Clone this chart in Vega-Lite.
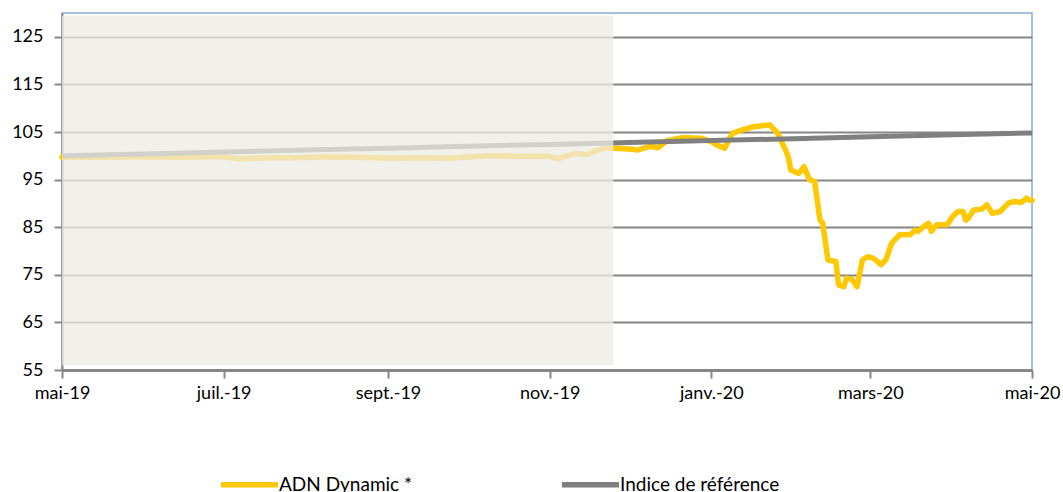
{
  "$schema": "https://vega.github.io/schema/vega-lite/v6.json",
  "width": 970,
  "height": 357,
  "autosize": {"type": "none"},
  "padding": {"left": 62, "top": 13, "right": 31, "bottom": 122},
  "background": "white",
  "config": {
    "font": "Lato",
    "view": {"stroke": "#8FAAD0", "strokeWidth": 1.5},
    "axis": {"labelFont": "Lato", "labelFontSize": 18, "labelColor": "#000000", "domainColor": "#868686", "tickColor": "#868686", "title": null}
  },
  "datasets": {
    "adn": [
      {"date": "2019/05/01", "value": 99.7, "series": "ADN Dynamic *"},
      {"date": "2019/05/15", "value": 99.7, "series": "ADN Dynamic *"},
      {"date": "2019/05/30", "value": 99.8, "series": "ADN Dynamic *"},
      {"date": "2019/06/14", "value": 99.7, "series": "ADN Dynamic *"},
      {"date": "2019/06/25", "value": 99.8, "series": "ADN Dynamic *"},
      {"date": "2019/07/01", "value": 99.8, "series": "ADN Dynamic *"},
      {"date": "2019/07/07", "value": 99.4, "series": "ADN Dynamic *"},
      {"date": "2019/07/18", "value": 99.6, "series": "ADN Dynamic *"},
      {"date": "2019/07/29", "value": 99.6, "series": "ADN Dynamic *"},
      {"date": "2019/08/09", "value": 99.8, "series": "ADN Dynamic *"},
      {"date": "2019/08/20", "value": 99.7, "series": "ADN Dynamic *"},
      {"date": "2019/09/03", "value": 99.5, "series": "ADN Dynamic *"},
      {"date": "2019/09/12", "value": 99.6, "series": "ADN Dynamic *"},
      {"date": "2019/09/24", "value": 99.5, "series": "ADN Dynamic *"},
      {"date": "2019/10/02", "value": 99.8, "series": "ADN Dynamic *"},
      {"date": "2019/10/11", "value": 100.0, "series": "ADN Dynamic *"},
      {"date": "2019/10/23", "value": 99.9, "series": "ADN Dynamic *"},
      {"date": "2019/11/01", "value": 99.9, "series": "ADN Dynamic *"},
      {"date": "2019/11/04", "value": 99.4, "series": "ADN Dynamic *"},
      {"date": "2019/11/11", "value": 100.5, "series": "ADN Dynamic *"},
      {"date": "2019/11/15", "value": 100.2, "series": "ADN Dynamic *"},
      {"date": "2019/11/19", "value": 101.2, "series": "ADN Dynamic *"},
      {"date": "2019/11/22", "value": 101.6, "series": "ADN Dynamic *"},
      {"date": "2019/11/26", "value": 101.6, "series": "ADN Dynamic *"},
      {"date": "2019/12/02", "value": 101.4, "series": "ADN Dynamic *"},
      {"date": "2019/12/04", "value": 101.2, "series": "ADN Dynamic *"},
      {"date": "2019/12/09", "value": 102.0, "series": "ADN Dynamic *"},
      {"date": "2019/12/12", "value": 101.7, "series": "ADN Dynamic *"},
      {"date": "2019/12/15", "value": 103.1, "series": "ADN Dynamic *"},
      {"date": "2019/12/21", "value": 103.8, "series": "ADN Dynamic *"},
      {"date": "2019/12/28", "value": 103.7, "series": "ADN Dynamic *"},
      {"date": "2020/01/01", "value": 103.0, "series": "ADN Dynamic *"},
      {"date": "2020/01/03", "value": 102.3, "series": "ADN Dynamic *"},
      {"date": "2020/01/06", "value": 101.6, "series": "ADN Dynamic *"},
      {"date": "2020/01/09", "value": 104.7, "series": "ADN Dynamic *"},
      {"date": "2020/01/13", "value": 105.5, "series": "ADN Dynamic *"},
      {"date": "2020/01/17", "value": 106.1, "series": "ADN Dynamic *"},
      {"date": "2020/01/23", "value": 106.5, "series": "ADN Dynamic *"},
      {"date": "2020/01/26", "value": 104.8, "series": "ADN Dynamic *"},
      {"date": "2020/01/29", "value": 101.2, "series": "ADN Dynamic *"},
      {"date": "2020/01/30", "value": 99.8, "series": "ADN Dynamic *"},
      {"date": "2020/01/31", "value": 97.0, "series": "ADN Dynamic *"},
      {"date": "2020/02/03", "value": 96.3, "series": "ADN Dynamic *"},
      {"date": "2020/02/05", "value": 97.7, "series": "ADN Dynamic *"},
      {"date": "2020/02/07", "value": 95.0, "series": "ADN Dynamic *"},
      {"date": "2020/02/09", "value": 94.6, "series": "ADN Dynamic *"},
      {"date": "2020/02/11", "value": 86.5, "series": "ADN Dynamic *"},
      {"date": "2020/02/12", "value": 85.9, "series": "ADN Dynamic *"},
      {"date": "2020/02/14", "value": 78.1, "series": "ADN Dynamic *"},
      {"date": "2020/02/17", "value": 77.8, "series": "ADN Dynamic *"},
      {"date": "2020/02/18", "value": 72.9, "series": "ADN Dynamic *"},
      {"date": "2020/02/20", "value": 72.5, "series": "ADN Dynamic *"},
      {"date": "2020/02/21", "value": 74.3, "series": "ADN Dynamic *"},
      {"date": "2020/02/23", "value": 74.1, "series": "ADN Dynamic *"},
      {"date": "2020/02/25", "value": 72.5, "series": "ADN Dynamic *"},
      {"date": "2020/02/27", "value": 78.1, "series": "ADN Dynamic *"},
      {"date": "2020/02/29", "value": 78.8, "series": "ADN Dynamic *"},
      {"date": "2020/03/02", "value": 78.5, "series": "ADN Dynamic *"},
      {"date": "2020/03/03", "value": 78.1, "series": "ADN Dynamic *"},
      {"date": "2020/03/05", "value": 77.1, "series": "ADN Dynamic *"},
      {"date": "2020/03/07", "value": 78.3, "series": "ADN Dynamic *"},
      {"date": "2020/03/09", "value": 81.6, "series": "ADN Dynamic *"},
      {"date": "2020/03/12", "value": 83.4, "series": "ADN Dynamic *"},
      {"date": "2020/03/16", "value": 83.4, "series": "ADN Dynamic *"},
      {"date": "2020/03/18", "value": 84.4, "series": "ADN Dynamic *"},
      {"date": "2020/03/19", "value": 84.1, "series": "ADN Dynamic *"},
      {"date": "2020/03/21", "value": 85.1, "series": "ADN Dynamic *"},
      {"date": "2020/03/23", "value": 85.8, "series": "ADN Dynamic *"},
      {"date": "2020/03/24", "value": 84.1, "series": "ADN Dynamic *"},
      {"date": "2020/03/26", "value": 85.5, "series": "ADN Dynamic *"},
      {"date": "2020/03/30", "value": 85.5, "series": "ADN Dynamic *"},
      {"date": "2020/04/01", "value": 87.2, "series": "ADN Dynamic *"},
      {"date": "2020/04/03", "value": 88.3, "series": "ADN Dynamic *"},
      {"date": "2020/04/05", "value": 88.3, "series": "ADN Dynamic *"},
      {"date": "2020/04/06", "value": 86.5, "series": "ADN Dynamic *"},
      {"date": "2020/04/07", "value": 86.9, "series": "ADN Dynamic *"},
      {"date": "2020/04/09", "value": 88.6, "series": "ADN Dynamic *"},
      {"date": "2020/04/12", "value": 88.8, "series": "ADN Dynamic *"},
      {"date": "2020/04/14", "value": 89.7, "series": "ADN Dynamic *"},
      {"date": "2020/04/16", "value": 87.9, "series": "ADN Dynamic *"},
      {"date": "2020/04/19", "value": 88.3, "series": "ADN Dynamic *"},
      {"date": "2020/04/22", "value": 90.0, "series": "ADN Dynamic *"},
      {"date": "2020/04/24", "value": 90.4, "series": "ADN Dynamic *"},
      {"date": "2020/04/27", "value": 90.2, "series": "ADN Dynamic *"},
      {"date": "2020/04/29", "value": 91.1, "series": "ADN Dynamic *"},
      {"date": "2020/04/30", "value": 90.7, "series": "ADN Dynamic *"},
      {"date": "2020/05/01", "value": 90.6, "series": "ADN Dynamic *"}
    ],
    "ref": [
      {"date": "2019/05/01", "value": 100.0, "series": "Indice de référence"},
      {"date": "2019/06/01", "value": 100.4, "series": "Indice de référence"},
      {"date": "2019/07/01", "value": 100.8, "series": "Indice de référence"},
      {"date": "2019/08/01", "value": 101.2, "series": "Indice de référence"},
      {"date": "2019/09/01", "value": 101.6, "series": "Indice de référence"},
      {"date": "2019/10/01", "value": 102.0, "series": "Indice de référence"},
      {"date": "2019/11/01", "value": 102.4, "series": "Indice de référence"},
      {"date": "2019/12/01", "value": 102.8, "series": "Indice de référence"},
      {"date": "2020/01/01", "value": 103.2, "series": "Indice de référence"},
      {"date": "2020/02/01", "value": 103.6, "series": "Indice de référence"},
      {"date": "2020/03/01", "value": 104.0, "series": "Indice de référence"},
      {"date": "2020/04/01", "value": 104.4, "series": "Indice de référence"},
      {"date": "2020/05/01", "value": 104.8, "series": "Indice de référence"}
    ],
    "shade": [
      {"start": "2019/05/01", "end": "2019/11/25", "low": 56, "high": 129.4}
    ]
  },
  "layer": [
    {
      "data": {"name": "adn"},
      "mark": {"type": "line", "strokeWidth": 5.5, "strokeJoin": "round", "strokeCap": "round"},
      "encoding": {
        "x": {
          "field": "date", "type": "temporal",
          "scale": {"domain": [{"year": 2019, "month": 5, "date": 1}, {"year": 2020, "month": 5, "date": 1}], "nice": false},
          "axis": {
            "tickCount": {"interval": "month", "step": 2},
            "labelExpr": "['janv.','févr.','mars','avr.','mai','juin','juil.','août','sept.','oct.','nov.','déc.'][month(datum.value)] + '-' + timeFormat(datum.value, '%y')",
            "grid": false, "domainWidth": 3, "tickWidth": 2, "tickSize": 8, "labelPadding": 6, "labelFlush": false, "labelOverlap": false
          }
        },
        "y": {
          "field": "value", "type": "quantitative",
          "scale": {"domain": [55, 130], "nice": false, "zero": false},
          "axis": {
            "values": [55, 65, 75, 85, 95, 105, 115, 125],
            "grid": true, "gridColor": "#868686", "gridWidth": 2,
            "domainWidth": 2, "tickWidth": 2, "tickSize": 8, "labelPadding": 11
          }
        },
        "color": {
          "field": "series", "type": "nominal",
          "scale": {"domain": ["ADN Dynamic *", "Indice de référence"], "range": ["#FFC800", "#808080"]},
          "legend": {
            "orient": "none", "legendX": 156, "legendY": 440, "direction": "horizontal", "title": null,
            "symbolType": "stroke", "symbolSize": 3249, "symbolStrokeWidth": 5.5,
            "labelFont": "Lato", "labelFontSize": 19, "labelColor": "#000000", "labelOffset": -2,
            "columnPadding": 138, "labelLimit": 400
          }
        }
      }
    },
    {
      "data": {"name": "ref"},
      "mark": {"type": "line", "strokeWidth": 5, "strokeCap": "butt"},
      "encoding": {
        "x": {"field": "date", "type": "temporal"},
        "y": {"field": "value", "type": "quantitative"},
        "color": {"field": "series", "type": "nominal"}
      }
    },
    {
      "data": {"name": "shade"},
      "mark": {"type": "rect", "fill": "#EEEBE4", "opacity": 0.75},
      "encoding": {
        "x": {"field": "start", "type": "temporal"},
        "x2": {"field": "end"},
        "y": {"field": "low", "type": "quantitative"},
        "y2": {"field": "high"}
      }
    }
  ]
}
